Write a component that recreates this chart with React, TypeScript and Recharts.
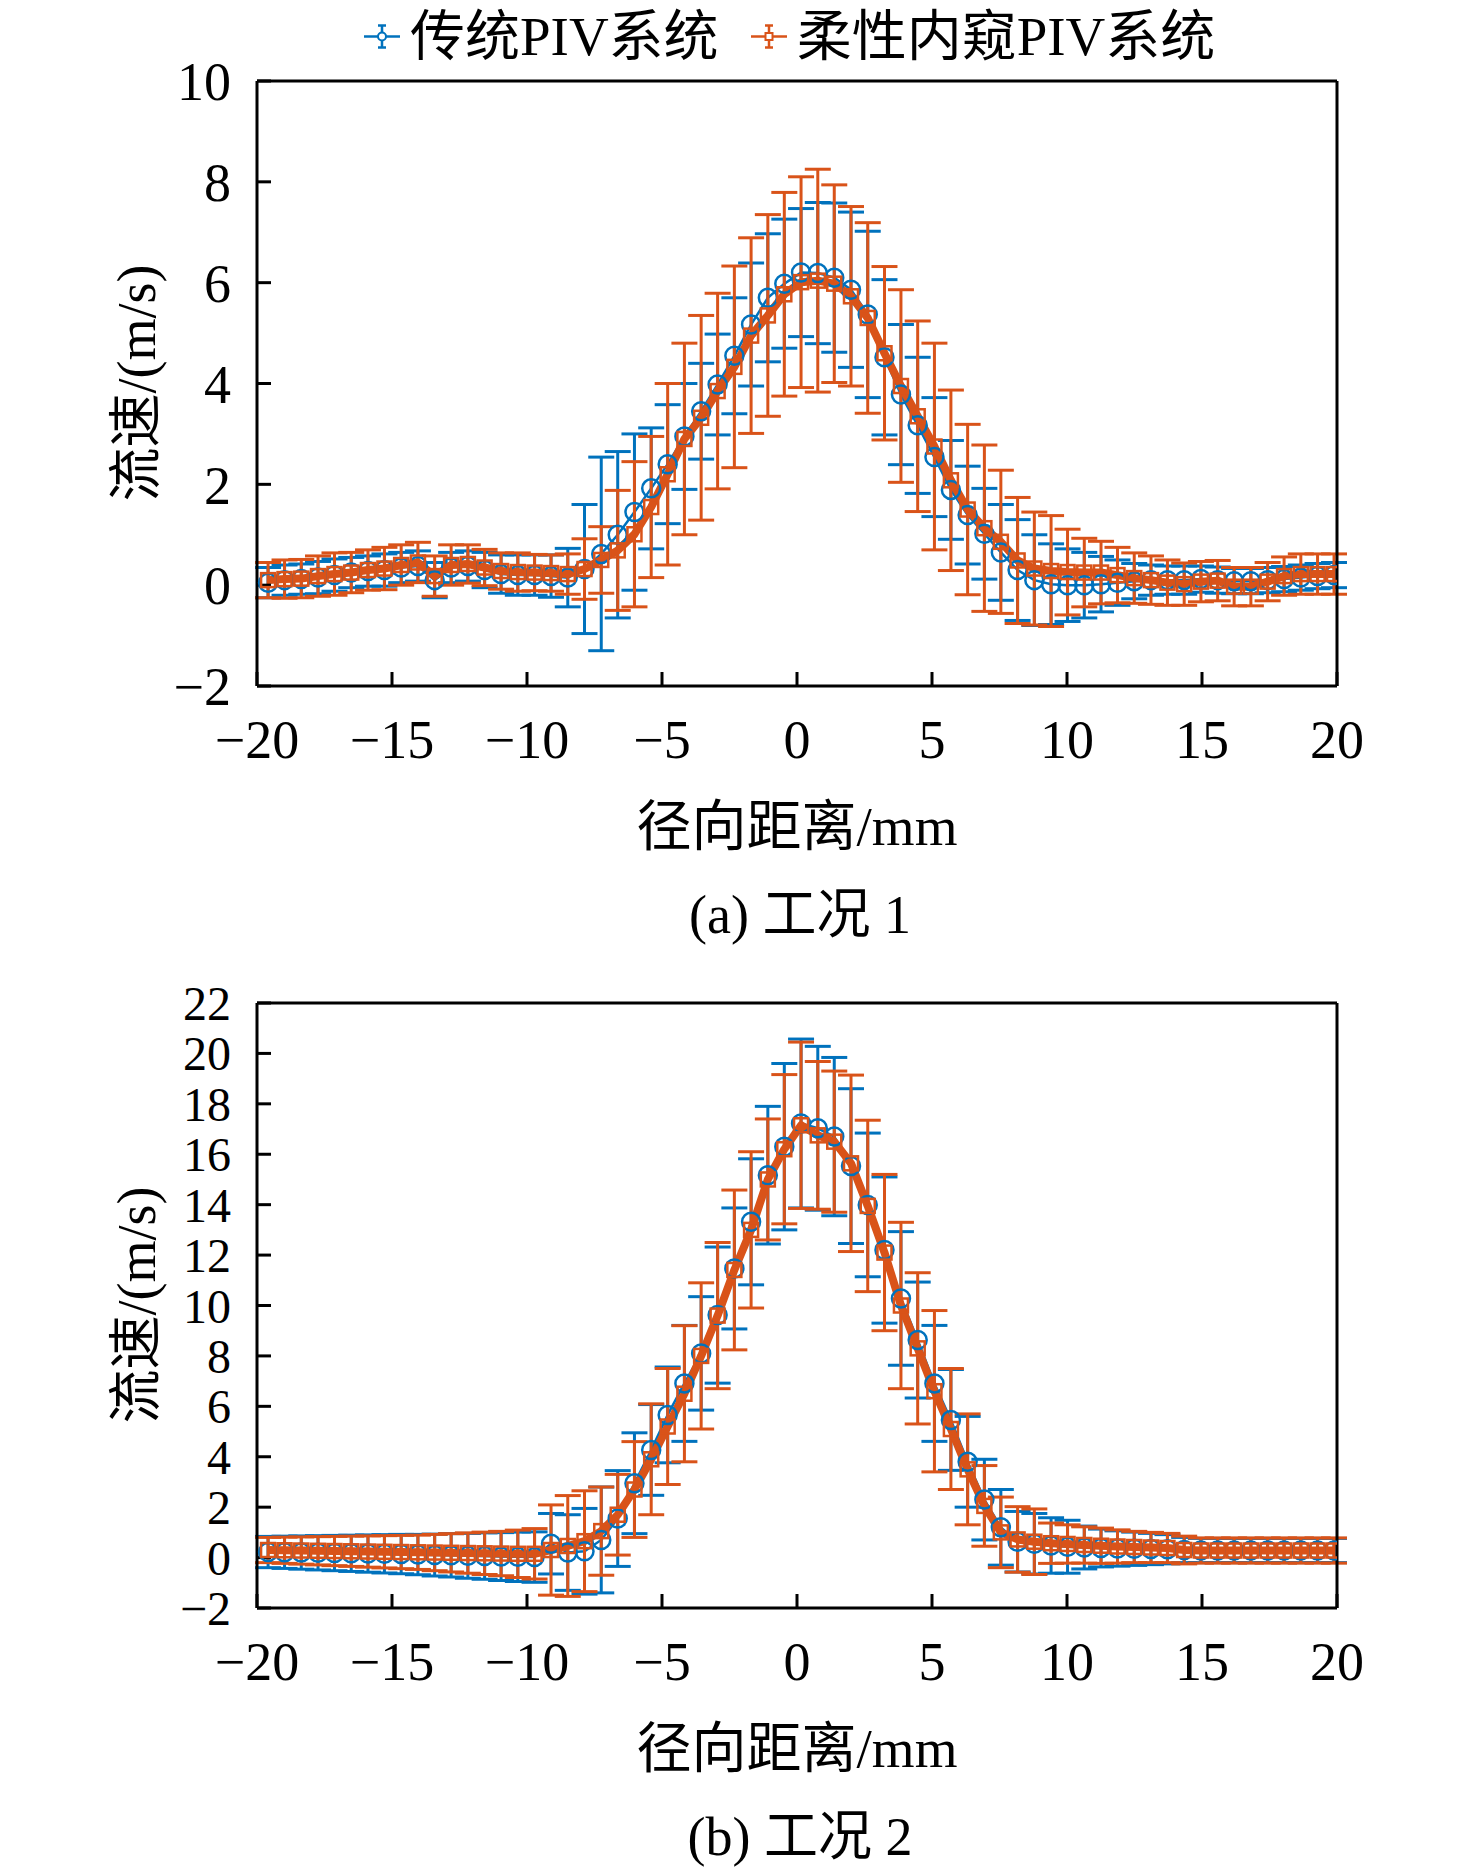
import React from "react";
import { ComposedChart, Line, ErrorBar, XAxis, YAxis } from "recharts";

// radial positions of the PIV vectors (mm)
const radial = [
  -19.59, -18.98, -18.36, -17.74, -17.13, -16.51, -15.89, -15.28, -14.66, -14.04, -13.42, -12.81, -12.19,
  -11.57, -10.96, -10.34, -9.72, -9.11, -8.49, -7.87, -7.25, -6.64, -6.02, -5.4, -4.79, -4.17, -3.55, -2.94,
  -2.32, -1.7, -1.08, -0.47, 0.15, 0.77, 1.38, 2.0, 2.62, 3.24, 3.85, 4.47, 5.09, 5.7, 6.32, 6.94, 7.55, 8.17,
  8.79, 9.41, 10.02, 10.64, 11.26, 11.87, 12.49, 13.11, 13.72, 14.34, 14.96, 15.58, 16.19, 16.81, 17.43, 18.04,
  18.66, 19.28, 19.89,
];

// case 1
const case1Trad = [
  0.05, 0.1, 0.12, 0.15, 0.2, 0.25, 0.28, 0.3, 0.35, 0.38, 0.1, 0.35, 0.38, 0.3, 0.22, 0.2, 0.2, 0.18, 0.15,
  0.32, 0.62, 1.0, 1.45, 1.92, 2.4, 2.95, 3.45, 3.98, 4.55, 5.17, 5.7, 5.98,
  6.2, 6.19, 6.1, 5.86, 5.37,
  4.52, 3.78, 3.17, 2.54, 1.89, 1.39, 1.02, 0.65, 0.3, 0.1, 0.02,
  0.0, 0.0, 0.02, 0.05, 0.08, 0.1, 0.1, 0.1, 0.12, 0.1, 0.08, 0.08, 0.1, 0.12, 0.15, 0.18, 0.2,
];
const case1TradErr = [
  0.3, 0.3, 0.3, 0.32, 0.32, 0.3, 0.3, 0.32, 0.3, 0.3, 0.35, 0.3, 0.3, 0.35, 0.38, 0.4, 0.4, 0.42, 0.58,
  1.28, 1.92, 1.65, 1.55, 1.2, 1.18, 1.05, 0.95, 1.0, 1.15, 1.22, 1.27, 1.28,
  1.27, 1.4, 1.48, 1.54, 1.65,
  1.54, 1.39, 1.35, 1.18, 0.98, 0.97, 0.9, 0.95, 1.0, 0.9, 0.8,
  0.72, 0.65, 0.55, 0.45, 0.35, 0.3, 0.28, 0.28, 0.26, 0.26, 0.25, 0.25, 0.25, 0.25, 0.25, 0.25, 0.25,
];
const case1Flex = [
  0.1, 0.12, 0.13, 0.18, 0.22, 0.25, 0.3, 0.33, 0.4, 0.45, 0.18, 0.4, 0.42, 0.35, 0.28, 0.26, 0.25, 0.24, 0.22,
  0.32, 0.5, 0.69, 1.01, 1.55, 2.2, 2.9, 3.32, 3.85, 4.33, 4.95, 5.35, 5.77,
  6.01, 6.04, 5.98, 5.73, 5.3,
  4.6, 3.95, 3.35, 2.75, 2.08, 1.5, 1.13, 0.86, 0.49, 0.33, 0.28,
  0.26, 0.25, 0.25, 0.2, 0.14, 0.1, 0.05, 0.02, 0.07, 0.09, -0.03, -0.03, 0.07, 0.18, 0.22, 0.22, 0.22,
];
const case1FlexErr = [
  0.35, 0.38, 0.38, 0.4, 0.42, 0.4, 0.4, 0.42, 0.4, 0.4, 0.4, 0.4, 0.38, 0.36, 0.36, 0.38, 0.36, 0.36, 0.4,
  0.6, 0.66, 1.19, 1.44, 1.4, 1.8, 1.9, 2.03, 1.94, 2.0, 1.94, 2.0, 2.02,
  2.09, 2.21, 1.96, 1.78, 1.89,
  1.72, 1.91, 1.89, 2.05, 1.79, 1.69, 1.65, 1.42, 1.25, 1.12, 1.1,
  0.85, 0.68, 0.62, 0.55, 0.5, 0.48, 0.45, 0.42, 0.4, 0.4, 0.38, 0.38, 0.38, 0.38, 0.4, 0.4, 0.4,
];

// case 2
const case2Trad = [
  0.22, 0.21, 0.2, 0.19, 0.18, 0.17, 0.16, 0.15, 0.14, 0.12, 0.1, 0.09, 0.07, 0.06, 0.04, 0.03, 0.02,
  0.55, 0.2, 0.25, 0.7, 1.55, 2.95, 4.27, 5.66, 6.91, 8.1, 9.62, 11.47, 13.32, 15.17, 16.3,
  17.22, 17.03, 16.7, 15.53, 13.99, 12.2, 10.28, 8.63, 6.91,
  5.46, 3.8, 2.3, 1.2, 0.63, 0.55, 0.48, 0.43, 0.4, 0.38, 0.36, 0.35, 0.34, 0.33, 0.3, 0.28, 0.28, 0.28, 0.28,
  0.28, 0.28, 0.28, 0.28, 0.28,
];
const case2TradErr = [
  0.62, 0.64, 0.66, 0.68, 0.7, 0.72, 0.74, 0.76, 0.78, 0.8, 0.83, 0.86, 0.89, 0.92, 0.95, 0.98, 1.0,
  1.2, 1.5, 1.7, 2.1, 1.9, 2.0, 1.8, 1.9, 2.3, 2.25, 2.7, 2.4, 2.5, 2.73, 3.3,
  3.35, 3.25, 3.14, 3.07, 2.85, 2.9, 2.65, 2.3, 2.3,
  2.0, 1.8, 1.6, 1.5, 1.2, 1.2, 1.1, 1.05, 0.85, 0.75, 0.7, 0.66, 0.62, 0.58, 0.5, 0.48, 0.48, 0.48, 0.48,
  0.48, 0.48, 0.48, 0.48, 0.48,
];
const case2Flex = [
  0.3, 0.29, 0.28, 0.27, 0.26, 0.25, 0.24, 0.23, 0.22, 0.21, 0.2, 0.19, 0.18, 0.17, 0.16, 0.15, 0.15,
  0.3, 0.46, 0.65, 1.05, 1.7, 2.7, 3.9, 5.2, 6.5, 8.0, 9.6, 11.41, 13.0, 15.0, 16.2,
  17.15, 16.75, 16.5, 15.64, 13.95, 12.1, 10.0, 8.3, 6.6,
  5.1, 3.5, 2.05, 1.0, 0.72, 0.63, 0.57, 0.54, 0.5, 0.47, 0.44, 0.42, 0.4, 0.38, 0.3, 0.28, 0.28, 0.28, 0.28,
  0.28, 0.28, 0.28, 0.28, 0.28,
];
const case2FlexErr = [
  0.5, 0.52, 0.54, 0.56, 0.58, 0.6, 0.62, 0.64, 0.66, 0.68, 0.72, 0.76, 0.8, 0.84, 0.88, 0.94, 1.0,
  1.79, 2.0, 2.0, 1.75, 1.6, 1.9, 2.2, 2.3, 2.7, 2.9, 2.9, 3.17, 3.1, 2.4, 2.96,
  3.3, 2.93, 2.8, 3.5, 3.4, 3.1, 3.3, 3.0, 3.2,
  2.4, 2.2, 1.6, 1.4, 1.3, 1.3, 0.8, 0.76, 0.72, 0.7, 0.66, 0.62, 0.6, 0.58, 0.55, 0.5, 0.5, 0.5, 0.5,
  0.5, 0.5, 0.5, 0.5, 0.5,
];

const xTicks = [-20, -15, -10, -5, 0, 5, 10, 15, 20];
const yTicks1 = [-2, 0, 2, 4, 6, 8, 10];
const yTicks2 = [-2, 0, 2, 4, 6, 8, 10, 12, 14, 16, 18, 20, 22];

const seriesNames = ["传统PIV系统", "柔性内窥PIV系统"];

const BLUE = "#0072BD";
const ORANGE = "#D95319";
const SERIF = '"Liberation Serif", "Times New Roman", "Noto Sans CJK SC", serif';

const rows = (trad: number[], tradErr: number[], flex: number[], flexErr: number[]) =>
  radial.map((x, i) => ({ x, trad: trad[i], tradErr: tradErr[i], flex: flex[i], flexErr: flexErr[i] }));

const fmt = (v: number) => (v < 0 ? `\u2212${Math.abs(v)}` : `${v}`);

const CircleDot = (p: any) => {
  if (p.cx == null || p.cy == null) return <g key={`c${p.index}`} />;
  return <circle key={`c${p.index}`} cx={p.cx} cy={p.cy} r={9} fill="none" stroke={BLUE} strokeWidth={2.5} />;
};

const SquareDot = (p: any) => {
  if (p.cx == null || p.cy == null) return <g key={`s${p.index}`} />;
  return (
    <rect key={`s${p.index}`} x={p.cx - 7} y={p.cy - 7} width={14} height={14} fill="none" stroke={ORANGE} strokeWidth={2.5} />
  );
};

const axisStroke = { stroke: "#000", strokeWidth: 3 };
const tickFont = { fill: "#000", fontSize: 54, fontFamily: SERIF };

function Panel({ data, yDomain, yTicks, top, caption, yFont }: any) {
  return (
    <div style={{ position: "absolute", left: 0, top, width: 1476, height: 940 }}>
      <ComposedChart width={1476} height={800} data={data} margin={{ top: 80, right: 138, bottom: 54, left: 157 }}>
        <XAxis
          dataKey="x"
          type="number"
          domain={[-20, 20]}
          ticks={xTicks}
          interval={0}
          allowDataOverflow
          tickFormatter={fmt}
          tickSize={-14}
          tickMargin={48}
          height={60}
          axisLine={axisStroke}
          tickLine={axisStroke}
          tick={tickFont}
        />
        <XAxis
          xAxisId="t"
          orientation="top"
          type="number"
          domain={[-20, 20]}
          ticks={xTicks}
          interval={0}
          height={1}
          tickSize={-14}
          tick={false}
          axisLine={axisStroke}
          tickLine={axisStroke}
        />
        <YAxis
          type="number"
          domain={yDomain}
          ticks={yTicks}
          interval={0}
          allowDataOverflow
          tickFormatter={fmt}
          tickSize={-14}
          tickMargin={40}
          width={100}
          axisLine={axisStroke}
          tickLine={axisStroke}
          tick={{ ...tickFont, fontSize: yFont }}
        />
        <YAxis
          yAxisId="r"
          orientation="right"
          type="number"
          domain={yDomain}
          ticks={yTicks}
          interval={0}
          width={1}
          tickSize={-14}
          tick={false}
          axisLine={axisStroke}
          tickLine={axisStroke}
        />
        <Line
          dataKey="trad"
          type="linear"
          stroke={BLUE}
          strokeWidth={2.5}
          dot={CircleDot}
          activeDot={false}
          isAnimationActive={false}
        >
          <ErrorBar dataKey="tradErr" direction="y" width={13} stroke={BLUE} strokeWidth={3} isAnimationActive={false} />
        </Line>
        <Line
          dataKey="flex"
          type="linear"
          stroke={ORANGE}
          strokeWidth={8}
          strokeLinejoin="round"
          dot={SquareDot}
          activeDot={false}
          isAnimationActive={false}
        >
          <ErrorBar dataKey="flexErr" direction="y" width={13} stroke={ORANGE} strokeWidth={3} isAnimationActive={false} />
        </Line>
      </ComposedChart>
      <div
        style={{
          position: "absolute",
          left: 137,
          top: 383,
          transform: "translate(-50%, -50%) rotate(-90deg)",
          whiteSpace: "nowrap",
          fontSize: 54,
          lineHeight: 1,
        }}
      >
        流速/(m/s)
      </div>
      <div
        style={{
          position: "absolute",
          left: 797,
          top: 826,
          transform: "translate(-50%, -50%)",
          whiteSpace: "nowrap",
          fontSize: 55,
          lineHeight: 1,
        }}
      >
        径向距离/mm
      </div>
      <div
        style={{
          position: "absolute",
          left: 800,
          top: 915,
          transform: "translate(-50%, -50%)",
          whiteSpace: "nowrap",
          fontSize: 54,
          lineHeight: 1,
        }}
      >
        {caption}
      </div>
    </div>
  );
}

function LegendIcon({ color, square }: { color: string; square?: boolean }) {
  return (
    <svg width={36} height={30} style={{ marginRight: 10 }}>
      <line x1={0} y1={15} x2={36} y2={15} stroke={color} strokeWidth={2.5} />
      <line x1={18} y1={4} x2={18} y2={26} stroke={color} strokeWidth={2.5} />
      <line x1={14} y1={4} x2={22} y2={4} stroke={color} strokeWidth={2.5} />
      <line x1={14} y1={26} x2={22} y2={26} stroke={color} strokeWidth={2.5} />
      {square ? (
        <rect x={14.5} y={11.5} width={7} height={7} fill="#fff" stroke={color} strokeWidth={2} />
      ) : (
        <circle cx={18} cy={15} r={4} fill="#fff" stroke={color} strokeWidth={2} />
      )}
    </svg>
  );
}

export default function App() {
  const data1 = rows(case1Trad, case1TradErr, case1Flex, case1FlexErr);
  const data2 = rows(case2Trad, case2TradErr, case2Flex, case2FlexErr);
  return (
    <div
      style={{
        position: "absolute",
        left: 0,
        top: 0,
        width: 1476,
        height: 1868,
        background: "#fff",
        fontFamily: SERIF,
        color: "#000",
        overflow: "hidden",
      }}
    >
      <div
        style={{
          position: "absolute",
          left: 364,
          top: 36,
          transform: "translateY(-50%)",
          display: "flex",
          alignItems: "center",
          whiteSpace: "nowrap",
          fontSize: 55,
          lineHeight: 1,
        }}
      >
        <LegendIcon color={BLUE} />
        <span style={{ marginRight: 32 }}>{seriesNames[0]}</span>
        <LegendIcon color={ORANGE} square />
        <span>{seriesNames[1]}</span>
      </div>
      <Panel data={data1} yDomain={[-2, 10]} yTicks={yTicks1} top={0} caption="(a) 工况 1" yFont={54} />
      <Panel data={data2} yDomain={[-2, 22]} yTicks={yTicks2} top={922} caption="(b) 工况 2" yFont={48} />
    </div>
  );
}
